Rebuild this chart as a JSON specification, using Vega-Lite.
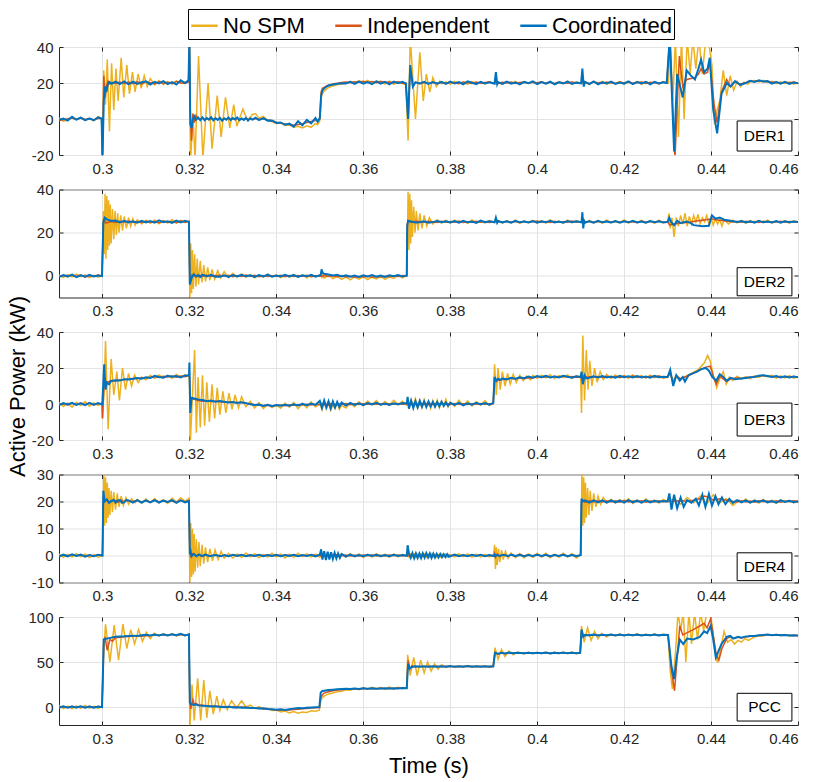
{
"$schema":"https://vega.github.io/schema/vega-lite/v6.json",
"background":"white",
"padding":{"left":5,"top":8,"right":10,"bottom":5},
"bounds":"flush",
"spacing":34.5,
"config":{
 "font":"Liberation Sans",
 "view":{"stroke":"#262626","strokeWidth":1},
 "axis":{"labelFont":"Liberation Sans","labelFontSize":15,"labelColor":"#262626","labelOverlap":false,"titleFont":"Liberation Sans","titleFontWeight":"normal","titleColor":"#000","gridColor":"#e3e3e3","gridWidth":1,"domain":false,"ticks":true,"tickSize":-4,"tickColor":"#262626","tickWidth":1,"labelPadding":10},
 "legend":{"labelFont":"Liberation Sans","labelFontSize":22,"labelColor":"#000"}
},
"datasets":{
"d1":[
{"t":0.29,"a":0.5,"b":-0.8,"c":-0.5},{"t":0.291,"a":-1.2,"b":-0.4,"c":0.3},{"t":0.292,"a":-0.6,"b":0.2,"c":-0.9},{"t":0.293,"a":1.1,"b":0.5,"c":1.2},{"t":0.294,"a":-0.3,"b":-0.3,"c":-0.4},{"t":0.295,"a":0.9,"b":0.6,"c":0.8},{"t":0.296,"a":-0.8,"b":-0.2,"c":-0.6},{"t":0.297,"a":0.4,"b":0.3,"c":0.2},{"t":0.298,"a":-1.0,"b":-0.5,"c":-0.7},{"t":0.299,"a":1.3,"b":0.4,"c":0.9},{"t":0.2998,"a":0.2,"b":0.1,"c":0.3},
{"t":0.3,"a":-22,"b":-22,"c":-22},{"t":0.3003,"a":27,"b":24,"c":10},{"t":0.3006,"b":12,"c":18},{"t":0.3007,"a":8},{"t":0.3009,"b":18,"c":15},{"t":0.3011,"a":33},{"t":0.3013,"b":21,"c":20},{"t":0.3016,"a":-7,"b":19.5,"c":20.5},{"t":0.3021,"a":31,"b":20.3,"c":19.6},{"t":0.3026,"a":5},{"t":0.303,"b":19.8,"c":20.8},{"t":0.3031,"a":28},{"t":0.3036,"a":10},{"t":0.304,"b":20.6,"c":19.4},{"t":0.3043,"a":34},{"t":0.3049,"a":12},{"t":0.305,"b":19.7,"c":20.9},{"t":0.3056,"a":30},{"t":0.306,"b":20.5,"c":19.3},{"t":0.3062,"a":14},{"t":0.3069,"a":26},{"t":0.307,"b":19.6,"c":20.7},{"t":0.3075,"a":15},{"t":0.308,"b":20.8,"c":19.5},{"t":0.3082,"a":25},{"t":0.3089,"a":17},{"t":0.309,"b":19.4,"c":20.4},{"t":0.3096,"a":24},{"t":0.31,"b":20.6,"c":20.9},{"t":0.3103,"a":18},
{"t":0.311,"a":22.5,"b":20.2,"c":19.2},{"t":0.312,"a":19,"b":19.5,"c":20.6},{"t":0.313,"a":21.4,"b":20.7,"c":19.8},{"t":0.314,"a":19.2,"b":19.8,"c":21.0},{"t":0.315,"a":20.8,"b":20.4,"c":19.4},{"t":0.316,"a":19.5,"b":19.6,"c":20.5},{"t":0.317,"a":21.2,"b":20.8,"c":19.1},{"t":0.318,"a":19.8,"b":20.1,"c":21.5},{"t":0.319,"a":20.6,"b":19.7,"c":20.0},{"t":0.3198,"a":21,"b":20.5,"c":21.5},
{"t":0.32,"a":42,"b":42,"c":45},{"t":0.3202,"b":5,"c":-3},{"t":0.3203,"a":-22},{"t":0.3205,"b":-12,"c":-5},{"t":0.3208,"a":3,"b":3,"c":0},{"t":0.3211,"b":-2,"c":1.5},{"t":0.3213,"a":-22},{"t":0.3215,"b":2,"c":-0.5},{"t":0.322,"b":0.5,"c":0.8},{"t":0.3221,"a":35},{"t":0.3225,"b":-0.4,"c":-0.6},{"t":0.323,"b":0.6,"c":0.9},{"t":0.3231,"a":-22},{"t":0.3235,"b":-0.3,"c":-0.7},{"t":0.324,"b":0.4,"c":0.5},{"t":0.3243,"a":20},{"t":0.3245,"b":-0.5,"c":-0.3},{"t":0.325,"b":0.3,"c":1.0},{"t":0.3252,"a":-16.5},{"t":0.3255,"b":-0.2,"c":-0.8},{"t":0.326,"b":0.5,"c":0.4},{"t":0.3264,"a":13},{"t":0.3265,"b":-0.4,"c":-0.5},{"t":0.327,"b":0.2,"c":0.7},{"t":0.3273,"a":-10},{"t":0.3275,"b":-0.6,"c":-0.9},{"t":0.328,"b":0.4,"c":0.3},{"t":0.3283,"a":12},{"t":0.3285,"b":-0.1,"c":-0.4},{"t":0.329,"b":0.5,"c":0.8},{"t":0.3293,"a":-5},{"t":0.3295,"b":-0.3,"c":-0.6},{"t":0.33,"b":0.2,"c":0.5},{"t":0.3302,"a":8},{"t":0.3305,"b":-0.5,"c":-0.2},{"t":0.3309,"a":-4},{"t":0.331,"b":0.4,"c":0.9},{"t":0.3315,"b":-0.2,"c":-0.7},{"t":0.332,"b":0.3,"c":0.3},{"t":0.3323,"a":5.5},{"t":0.3325,"b":-0.4,"c":-0.5},{"t":0.333,"b":0.5,"c":0.6},{"t":0.3334,"a":-1},{"t":0.3335,"b":-0.3,"c":-0.8},{"t":0.334,"b":0.2,"c":0.4},{"t":0.3345,"a":2.5,"b":-0.4,"c":-0.3},{"t":0.3352,"a":3,"b":0.3,"c":0.7},{"t":0.336,"a":0.5,"b":-0.2,"c":-0.6},{"t":0.337,"a":1.5,"b":0.1,"c":0.5},{"t":0.338,"a":-0.8,"b":-0.6,"c":-0.9},{"t":0.339,"a":-1.5,"b":-1.0,"c":-0.8},{"t":0.34,"a":-2.5,"b":-1.8,"c":-2.2},{"t":0.341,"a":-2.2,"b":-2.3,"c":-1.9},{"t":0.342,"a":-3.6,"b":-2.8,"c":-3.2},{"t":0.343,"a":-3.2,"b":-3.2,"c":-2.6},{"t":0.344,"a":-4.5,"b":-3.5,"c":-4.2},{"t":0.345,"a":-4.0,"b":-3.0,"c":-1.2},{"t":0.346,"a":-5.0,"b":-2.6,"c":-3.5},{"t":0.347,"a":-3.8,"b":-2.0,"c":-0.5},{"t":0.348,"a":-4.6,"b":-1.4,"c":-2.4},{"t":0.349,"a":-2.5,"b":-0.9,"c":0.6},{"t":0.3495,"a":-3.2,"b":-0.5,"c":-1.5},
{"t":0.35,"a":-1,"b":0,"c":0.5},{"t":0.3503,"a":12,"b":15,"c":13},{"t":0.3506,"a":14,"b":17,"c":16},{"t":0.351,"a":15.5,"b":17.5,"c":17},{"t":0.3515,"a":16.5,"b":18.2,"c":18},{"t":0.352,"a":17.5,"b":18.8,"c":18.6},{"t":0.353,"a":18.3,"b":19.4,"c":19.2},{"t":0.354,"a":19,"b":19.8,"c":19.6},{"t":0.355,"a":19.4,"b":20.3,"c":19.9},{"t":0.356,"a":19.8,"b":20.5,"c":19.7},{"t":0.357,"a":20.9,"b":20.2,"c":20.6},{"t":0.358,"a":19.8,"b":20.7,"c":19.5},{"t":0.359,"a":21.3,"b":20.4,"c":20.8},{"t":0.36,"a":20.2,"b":20.9,"c":19.6},{"t":0.361,"a":21.4,"b":20.3,"c":20.5},{"t":0.362,"a":19.6,"b":20.8,"c":19.4},{"t":0.363,"a":21.1,"b":20.1,"c":20.9},{"t":0.364,"a":20.4,"b":20.9,"c":19.7},{"t":0.365,"a":19.5,"b":20.3,"c":20.6},{"t":0.366,"a":21.0,"b":20.6,"c":19.2},{"t":0.367,"a":19.3,"b":20.0,"c":20.8},{"t":0.368,"a":20.8,"b":20.7,"c":19.9},{"t":0.369,"a":19.7,"b":19.9,"c":20.7},{"t":0.3698,"a":19,"b":20,"c":19.6},
{"t":0.3703,"a":-12,"b":0,"c":0},{"t":0.3708,"a":45,"b":28,"c":30},{"t":0.3714,"b":18,"c":18},{"t":0.372,"a":0,"b":20.5,"c":20.4},{"t":0.373,"a":37,"b":19.6,"c":19.8},{"t":0.3738,"a":10},{"t":0.374,"b":20.3,"c":20.6},{"t":0.3745,"a":25},{"t":0.375,"b":19.8,"c":19.5},{"t":0.3753,"a":15},{"t":0.376,"a":23,"b":20.4,"c":20.5},{"t":0.3768,"a":18},{"t":0.377,"b":19.7,"c":19.6},{"t":0.3776,"a":21},{"t":0.378,"a":19.5,"b":20.2,"c":20.6},
{"t":0.379,"a":20.6,"b":19.8,"c":19.5},{"t":0.38,"a":19.4,"b":20.4,"c":20.8},{"t":0.381,"a":20.9,"b":20.1,"c":19.7},{"t":0.382,"a":19.7,"b":19.6,"c":20.5},{"t":0.383,"a":20.5,"b":20.6,"c":19.3},{"t":0.384,"a":19.2,"b":20.2,"c":20.9},{"t":0.385,"a":20.8,"b":19.7,"c":20.1},{"t":0.386,"a":19.9,"b":20.5,"c":19.4},{"t":0.387,"a":20.4,"b":19.9,"c":20.7},{"t":0.388,"a":19.5,"b":20.3,"c":19.8},{"t":0.389,"a":20.7,"b":20.6,"c":20.4},{"t":0.3902,"a":19.8,"b":19.8,"c":19.6},{"t":0.3905,"a":20.5,"b":20.8,"c":26},{"t":0.3908,"a":19.6,"b":20.1,"c":19.4},{"t":0.391,"a":20.3,"b":19.6,"c":20.5},{"t":0.392,"a":19.4,"b":20.4,"c":19.5},{"t":0.393,"a":20.6,"b":20.0,"c":20.8},{"t":0.394,"a":19.7,"b":20.5,"c":19.6},{"t":0.395,"a":20.9,"b":19.7,"c":20.3},{"t":0.396,"a":19.3,"b":20.3,"c":19.2},{"t":0.397,"a":20.4,"b":20.6,"c":20.6},{"t":0.398,"a":19.8,"b":19.9,"c":19.9},{"t":0.399,"a":20.7,"b":20.4,"c":20.9},{"t":0.4,"a":19.5,"b":20.1,"c":19.4},{"t":0.401,"a":20.6,"b":20.7,"c":20.5},{"t":0.402,"a":19.6,"b":19.8,"c":19.6},{"t":0.403,"a":20.8,"b":20.4,"c":20.7},{"t":0.404,"a":19.4,"b":19.7,"c":19.3},{"t":0.405,"a":20.3,"b":20.5,"c":20.4},{"t":0.406,"a":19.7,"b":20.2,"c":19.8},{"t":0.407,"a":21.0,"b":19.9,"c":20.8},{"t":0.408,"a":19.5,"b":20.6,"c":19.5},{"t":0.409,"a":20.5,"b":20.0,"c":20.2},{"t":0.4101,"a":19.9,"b":20.3,"c":19.8},{"t":0.4104,"a":20.4,"b":20.9,"c":28},{"t":0.4107,"a":19.6,"b":19.7,"c":18},{"t":0.411,"a":20.7,"b":20.4,"c":20.6},{"t":0.412,"a":19.3,"b":19.8,"c":19.4},{"t":0.413,"a":20.6,"b":20.5,"c":20.9},{"t":0.414,"a":19.8,"b":20.1,"c":19.3},{"t":0.415,"a":20.9,"b":19.7,"c":20.4},{"t":0.416,"a":19.4,"b":20.6,"c":19.7},{"t":0.417,"a":20.3,"b":20.2,"c":20.8},{"t":0.418,"a":19.7,"b":19.8,"c":19.5},{"t":0.419,"a":20.8,"b":20.5,"c":20.3},{"t":0.42,"a":19.5,"b":20.0,"c":19.6},{"t":0.421,"a":20.4,"b":20.7,"c":20.9},{"t":0.422,"a":19.6,"b":19.9,"c":19.4},{"t":0.423,"a":20.9,"b":20.3,"c":20.5},{"t":0.424,"a":19.3,"b":20.6,"c":19.8},{"t":0.425,"a":20.6,"b":19.8,"c":20.7},{"t":0.426,"a":19.8,"b":20.4,"c":19.3},{"t":0.427,"a":20.5,"b":20.1,"c":20.6},{"t":0.428,"a":19.4,"b":19.7,"c":19.7},{"t":0.429,"a":20.7,"b":20.5,"c":20.4},{"t":0.4298,"a":20,"b":20,"c":20},
{"t":0.4302,"a":20},{"t":0.4305,"b":45,"c":45},{"t":0.4306,"a":45},{"t":0.4312,"a":10},{"t":0.4315,"c":-18},{"t":0.4317,"b":-22},{"t":0.4318,"a":45},{"t":0.4322,"c":25},{"t":0.4325,"a":-10},{"t":0.4327,"b":35},{"t":0.4332,"a":45},{"t":0.4335,"b":18,"c":12},{"t":0.4338,"a":0},{"t":0.4344,"b":22,"c":27},{"t":0.4345,"a":45},{"t":0.4352,"a":25},{"t":0.4354,"b":22.5,"c":24},{"t":0.4358,"a":45},{"t":0.4363,"b":23,"c":22},{"t":0.4365,"a":28},{"t":0.4371,"b":25,"c":28},{"t":0.4372,"a":45},{"t":0.4377,"b":28,"c":33},{"t":0.438,"a":25},{"t":0.4384,"b":25,"c":26},{"t":0.4388,"a":45},{"t":0.4392,"b":26,"c":28},{"t":0.4396,"a":40},{"t":0.4397,"b":32,"c":34},{"t":0.4402,"a":30},{"t":0.4405,"c":5},{"t":0.4407,"b":8},{"t":0.4408,"a":-3},{"t":0.4414,"a":5,"b":-2,"c":-8},{"t":0.442,"a":10},{"t":0.4424,"b":15,"c":14},{"t":0.4428,"a":27},{"t":0.4436,"a":13,"b":22,"c":20},{"t":0.4444,"a":24},{"t":0.4445,"b":18,"c":18},{"t":0.4452,"a":16},{"t":0.4455,"b":20.5,"c":21},{"t":0.446,"a":21},{"t":0.4467,"b":19.5,"c":19},{"t":0.4468,"a":18},{"t":0.4476,"a":20.5},{"t":0.448,"b":20.2,"c":20},{"t":0.4485,"a":19.3,"b":20.6,"c":20.7},{"t":0.449,"a":20.9,"b":20.9,"c":21.2},
{"t":0.45,"a":21.4,"b":21.0,"c":20.6},{"t":0.451,"a":20.6,"b":21.2,"c":21.5},{"t":0.452,"a":21.5,"b":20.7,"c":20.8},{"t":0.453,"a":20.3,"b":20.9,"c":21.1},{"t":0.454,"a":20.9,"b":20.3,"c":19.7},{"t":0.455,"a":19.6,"b":20.6,"c":20.5},{"t":0.456,"a":20.7,"b":19.9,"c":19.6},{"t":0.457,"a":19.8,"b":20.4,"c":20.6},{"t":0.458,"a":20.5,"b":20.1,"c":19.5},{"t":0.459,"a":19.4,"b":20.5,"c":20.3},{"t":0.46,"a":20.3,"b":20.0,"c":19.8}
],
"d2":[
{"t":0.29,"a":0.4,"b":-0.3,"c":-0.5},{"t":0.291,"a":-0.7,"b":0.2,"c":0.4},{"t":0.292,"a":0.6,"b":-0.4,"c":-0.2},{"t":0.293,"a":-0.5,"b":0.3,"c":0.6},{"t":0.294,"a":0.8,"b":-0.2,"c":-0.6},{"t":0.295,"a":-0.4,"b":0.4,"c":0.3},{"t":0.296,"a":0.5,"b":-0.5,"c":-0.4},{"t":0.297,"a":-0.8,"b":0.1,"c":0.5},{"t":0.298,"a":0.3,"b":-0.3,"c":-0.3},{"t":0.299,"a":-0.6,"b":0.4,"c":0.2},{"t":0.2999,"a":0.2,"b":0,"c":-0.1},
{"t":0.3002,"a":30,"b":24,"c":25},{"t":0.3004,"a":10},{"t":0.3005,"b":26,"c":27},{"t":0.3006,"a":38},{"t":0.3008,"a":8,"b":24.5},{"t":0.301,"a":37,"c":26.2},{"t":0.3012,"a":12},{"t":0.3014,"a":35},{"t":0.3016,"a":14},{"t":0.3018,"a":33},{"t":0.302,"a":15,"b":25.2,"c":25.4},{"t":0.3023,"a":31},{"t":0.3026,"a":17},{"t":0.3029,"a":30},{"t":0.303,"b":24.7,"c":25.6},{"t":0.3032,"a":19},{"t":0.3035,"a":29},{"t":0.3038,"a":20},{"t":0.304,"b":25.3,"c":24.8},{"t":0.3042,"a":28},{"t":0.3046,"a":21},{"t":0.305,"a":27.5,"b":24.8,"c":25.5},{"t":0.3055,"a":22},{"t":0.306,"a":27,"b":25.4,"c":24.7},{"t":0.3065,"a":23},{"t":0.307,"a":26.5,"b":24.9,"c":25.3},{"t":0.3075,"a":23.5},{"t":0.308,"a":26,"b":25.2,"c":24.6},{"t":0.309,"a":24,"b":24.7,"c":25.5},
{"t":0.31,"a":25.8,"b":25.3,"c":24.8},{"t":0.311,"a":24.3,"b":24.8,"c":25.4},{"t":0.312,"a":25.9,"b":25.2,"c":24.6},{"t":0.313,"a":24.1,"b":24.6,"c":25.7},{"t":0.314,"a":25.6,"b":25.4,"c":24.9},{"t":0.315,"a":24.5,"b":24.9,"c":25.3},{"t":0.316,"a":26.1,"b":25.1,"c":24.5},{"t":0.317,"a":24.4,"b":24.7,"c":25.6},{"t":0.318,"a":25.7,"b":25.5,"c":24.8},{"t":0.319,"a":24.6,"b":24.8,"c":25.5},{"t":0.3199,"a":25.4,"b":25.2,"c":25},
{"t":0.3201,"a":-12,"b":-2,"c":-4},{"t":0.3203,"a":15},{"t":0.3205,"a":-8,"b":0.5,"c":-1},{"t":0.3207,"a":12},{"t":0.3209,"a":-6},{"t":0.321,"b":0.2,"c":0.8},{"t":0.3212,"a":10},{"t":0.3215,"a":-5,"b":-0.4,"c":-0.3},{"t":0.3218,"a":8},{"t":0.322,"b":-0.3,"c":0.4},{"t":0.3221,"a":-4},{"t":0.3225,"a":7,"b":0.3,"c":-0.5},{"t":0.3229,"a":-3},{"t":0.323,"b":-0.2,"c":0.6},{"t":0.3233,"a":5},{"t":0.3237,"a":-2.5},{"t":0.324,"b":0.4,"c":-0.2},{"t":0.3242,"a":4},{"t":0.3247,"a":-2},{"t":0.325,"b":-0.3,"c":0.5},{"t":0.3252,"a":3},{"t":0.3258,"a":-1.5},{"t":0.326,"b":0.2,"c":-0.4},{"t":0.3265,"a":2.5},{"t":0.327,"b":0.3,"c":-0.4},{"t":0.3272,"a":-1},{"t":0.328,"a":2,"b":-0.2,"c":0.3},
{"t":0.329,"a":-0.8,"b":0.3,"c":-0.5},{"t":0.33,"a":1.2,"b":-0.4,"c":0.4},{"t":0.331,"a":-0.5,"b":0.2,"c":-0.3},{"t":0.332,"a":0.9,"b":-0.3,"c":0.5},{"t":0.333,"a":-0.7,"b":0.4,"c":-0.2},{"t":0.334,"a":0.6,"b":-0.1,"c":0.3},{"t":0.335,"a":-0.9,"b":0.3,"c":-0.5},{"t":0.336,"a":0.4,"b":-0.4,"c":0.4},{"t":0.337,"a":-0.6,"b":0.2,"c":-0.3},{"t":0.338,"a":0.8,"b":-0.3,"c":0.6},{"t":0.339,"a":-0.4,"b":0.1,"c":-0.4},{"t":0.34,"a":0.5,"b":-0.2,"c":0.2},{"t":0.341,"a":-0.8,"b":0.3,"c":-0.3},{"t":0.342,"a":0.3,"b":-0.4,"c":0.5},{"t":0.343,"a":-0.6,"b":0.2,"c":-0.2},{"t":0.344,"a":0.7,"b":-0.3,"c":0.4},{"t":0.345,"a":-0.5,"b":0.2,"c":-0.5},{"t":0.346,"a":0.4,"b":-0.2,"c":0.3},{"t":0.347,"a":-0.9,"b":0.3,"c":-0.2},{"t":0.348,"a":0.6,"b":-0.4,"c":0.5},{"t":0.349,"a":-0.3,"b":0.1,"c":-0.4},{"t":0.3502,"a":0.3,"b":-0.2,"c":0.4},{"t":0.3504,"a":-0.6,"b":0.2,"c":3},{"t":0.3507,"a":0.5,"b":-0.3,"c":1.2},{"t":0.351,"a":-1.0,"b":0.2,"c":1.0},{"t":0.352,"a":0.4,"b":-0.3,"c":0.6},{"t":0.353,"a":-1.2,"b":0.1,"c":0.2},{"t":0.354,"a":-0.2,"b":-0.4,"c":0.5},{"t":0.355,"a":-1.6,"b":0.2,"c":-0.3},{"t":0.356,"a":-0.4,"b":-0.5,"c":0.3},{"t":0.357,"a":-1.8,"b":-0.2,"c":-0.4},{"t":0.358,"a":-0.5,"b":-0.6,"c":0.2},{"t":0.359,"a":-1.5,"b":-0.3,"c":-0.5},{"t":0.36,"a":-0.3,"b":-0.5,"c":0.3},{"t":0.361,"a":-1.7,"b":-0.2,"c":-0.3},{"t":0.362,"a":-0.6,"b":-0.6,"c":0.4},{"t":0.363,"a":-1.4,"b":-0.3,"c":-0.4},{"t":0.364,"a":-0.2,"b":-0.5,"c":0.2},{"t":0.365,"a":-1.6,"b":-0.2,"c":-0.5},{"t":0.366,"a":-0.4,"b":-0.4,"c":0.3},{"t":0.367,"a":-1.2,"b":0.1,"c":-0.2},{"t":0.368,"a":0.2,"b":-0.3,"c":0.4},{"t":0.369,"a":-0.9,"b":0.2,"c":-0.3},{"t":0.37,"a":0.3,"b":-0.1,"c":0.2},
{"t":0.3701,"a":8,"b":24,"c":23},{"t":0.3703,"a":39,"b":25.5,"c":25.5},{"t":0.3705,"a":12},{"t":0.3707,"a":38},{"t":0.3709,"a":15},{"t":0.371,"b":24.8,"c":25.2},{"t":0.3711,"a":35},{"t":0.3713,"a":18},{"t":0.3716,"a":32},{"t":0.3719,"a":20},{"t":0.372,"b":25.3,"c":24.7},{"t":0.3722,"a":30},{"t":0.3726,"a":21},{"t":0.373,"a":29,"b":25.2,"c":24.8},{"t":0.3735,"a":22},{"t":0.374,"a":28,"b":24.8,"c":25.3},{"t":0.3746,"a":23},{"t":0.375,"b":25.3,"c":24.6},{"t":0.3752,"a":27},{"t":0.376,"a":24,"b":25.1,"c":24.9},{"t":0.377,"a":26,"b":24.7,"c":25.4},{"t":0.378,"a":24.5,"b":25.3,"c":24.8},
{"t":0.379,"a":25.7,"b":24.8,"c":25.3},{"t":0.38,"a":24.4,"b":25.2,"c":24.7},{"t":0.381,"a":25.8,"b":24.9,"c":25.4},{"t":0.382,"a":24.6,"b":25.4,"c":24.6},{"t":0.383,"a":25.5,"b":24.7,"c":25.5},{"t":0.384,"a":24.3,"b":25.1,"c":24.8},{"t":0.385,"a":25.9,"b":24.8,"c":25.2},{"t":0.386,"a":24.7,"b":25.3,"c":24.5},{"t":0.387,"a":25.4,"b":24.9,"c":25.6},{"t":0.388,"a":24.5,"b":25.2,"c":24.9},{"t":0.389,"a":25.6,"b":24.7,"c":25.3},{"t":0.3902,"a":24.8,"b":25.1,"c":24.8},{"t":0.3905,"a":25.3,"b":25.4,"c":27},{"t":0.3908,"a":24.6,"b":24.8,"c":24.6},{"t":0.391,"a":25.7,"b":25.2,"c":25.4},{"t":0.392,"a":24.4,"b":24.8,"c":24.7},{"t":0.393,"a":25.5,"b":25.3,"c":25.3},{"t":0.394,"a":24.7,"b":24.9,"c":24.6},{"t":0.395,"a":25.8,"b":25.2,"c":25.5},{"t":0.396,"a":24.3,"b":24.7,"c":24.8},{"t":0.397,"a":25.4,"b":25.3,"c":25.2},{"t":0.398,"a":24.6,"b":24.8,"c":24.7},{"t":0.399,"a":25.7,"b":25.1,"c":25.4},{"t":0.4,"a":24.5,"b":25.4,"c":24.6},{"t":0.401,"a":25.6,"b":24.8,"c":25.3},{"t":0.402,"a":24.4,"b":25.2,"c":24.8},{"t":0.403,"a":25.9,"b":24.7,"c":25.5},{"t":0.404,"a":24.7,"b":25.3,"c":24.7},{"t":0.405,"a":25.3,"b":24.9,"c":25.2},{"t":0.406,"a":24.5,"b":25.1,"c":24.6},{"t":0.407,"a":25.8,"b":24.8,"c":25.4},{"t":0.408,"a":24.6,"b":25.4,"c":24.9},{"t":0.409,"a":25.5,"b":24.9,"c":25.3},{"t":0.4102,"a":24.7,"b":25.2,"c":24.8},{"t":0.4104,"a":25.4,"b":25.3,"c":29.5},{"t":0.4106,"a":24.8,"b":24.8,"c":22},{"t":0.4108,"a":25.6,"b":25.1,"c":25.5},{"t":0.411,"a":24.4,"b":24.7,"c":24.7},{"t":0.412,"a":25.7,"b":25.3,"c":25.3},{"t":0.413,"a":24.5,"b":24.8,"c":24.6},{"t":0.414,"a":25.6,"b":25.2,"c":25.5},{"t":0.415,"a":24.3,"b":24.9,"c":24.8},{"t":0.416,"a":25.8,"b":25.4,"c":25.2},{"t":0.417,"a":24.6,"b":24.7,"c":24.7},{"t":0.418,"a":25.4,"b":25.2,"c":25.4},{"t":0.419,"a":24.7,"b":24.8,"c":24.6},{"t":0.42,"a":25.9,"b":25.3,"c":25.3},{"t":0.421,"a":24.4,"b":24.9,"c":24.8},{"t":0.422,"a":25.5,"b":25.1,"c":25.5},{"t":0.423,"a":24.6,"b":24.7,"c":24.7},{"t":0.424,"a":25.7,"b":25.4,"c":25.2},{"t":0.425,"a":24.5,"b":24.8,"c":24.6},{"t":0.426,"a":25.6,"b":25.2,"c":25.4},{"t":0.427,"a":24.3,"b":24.9,"c":24.8},{"t":0.428,"a":25.8,"b":25.3,"c":25.3},{"t":0.429,"a":24.6,"b":24.8,"c":24.7},
{"t":0.43,"a":25,"b":25,"c":25},{"t":0.4303,"a":29},{"t":0.4304,"c":27},{"t":0.4305,"b":23.5},{"t":0.4306,"a":22},{"t":0.4308,"c":25},{"t":0.431,"a":27},{"t":0.4315,"a":18,"b":24,"c":23.5},{"t":0.432,"a":27},{"t":0.4322,"c":25.5},{"t":0.4325,"a":23},{"t":0.433,"a":28,"b":24.5,"c":24.5},{"t":0.4335,"a":24},{"t":0.434,"a":29},{"t":0.4345,"a":23,"c":25.2},{"t":0.435,"a":27.5,"b":24.8},{"t":0.4355,"a":24,"c":24.2},{"t":0.436,"a":28,"c":23.5},{"t":0.4365,"a":25},{"t":0.437,"a":28.5,"b":25.5},{"t":0.4375,"a":24},{"t":0.438,"a":27,"c":23},{"t":0.4385,"a":25},{"t":0.439,"a":28,"b":26},{"t":0.4395,"a":24,"c":23.2},{"t":0.44,"a":27,"b":26.5},{"t":0.4402,"c":28},{"t":0.4405,"a":23.5},{"t":0.441,"a":26.5,"b":26,"c":26.5},{"t":0.4415,"a":24},{"t":0.442,"a":26,"c":27},{"t":0.4425,"a":23},{"t":0.443,"a":26,"b":25.5,"c":26},{"t":0.444,"a":24},{"t":0.4445,"c":25.5},{"t":0.445,"a":25.8,"b":25},{"t":0.446,"a":24.5,"b":25.2,"c":25},
{"t":0.447,"a":25.7,"b":24.8,"c":25.4},{"t":0.448,"a":24.4,"b":25.3,"c":24.7},{"t":0.449,"a":25.6,"b":24.9,"c":25.3},{"t":0.45,"a":24.7,"b":25.2,"c":24.6},{"t":0.451,"a":25.5,"b":24.7,"c":25.5},{"t":0.452,"a":24.6,"b":25.3,"c":24.8},{"t":0.453,"a":25.8,"b":24.8,"c":25.2},{"t":0.454,"a":24.5,"b":25.1,"c":24.7},{"t":0.455,"a":25.4,"b":24.9,"c":25.4},{"t":0.456,"a":24.7,"b":25.3,"c":24.6},{"t":0.457,"a":25.6,"b":24.8,"c":25.3},{"t":0.458,"a":24.4,"b":25.2,"c":24.8},{"t":0.459,"a":25.5,"b":24.9,"c":25.2},{"t":0.46,"a":24.8,"b":25.1,"c":24.9}
],
"d3":[
{"t":0.29,"a":0.8,"b":-0.4,"c":-0.6},{"t":0.291,"a":-1.4,"b":0.3,"c":0.5},{"t":0.292,"a":0.5,"b":-0.5,"c":-0.3},{"t":0.293,"a":-1.8,"b":0.4,"c":0.7},{"t":0.294,"a":1.0,"b":-0.3,"c":-0.5},{"t":0.295,"a":-0.9,"b":0.5,"c":0.4},{"t":0.296,"a":1.3,"b":-0.2,"c":-0.6},{"t":0.297,"a":-1.2,"b":0.4,"c":0.6},{"t":0.298,"a":0.6,"b":-0.5,"c":-0.4},{"t":0.299,"a":-0.8,"b":0.3,"c":0.5},{"t":0.2999,"a":0.4,"b":-0.2,"c":-0.2},
{"t":0.3,"a":-8,"b":-8,"c":2},{"t":0.3004,"a":10,"b":12,"c":22},{"t":0.3007,"a":35,"b":10,"c":8},{"t":0.301,"b":12,"c":12},{"t":0.3013,"a":-14},{"t":0.3015,"b":12.5,"c":11},{"t":0.302,"a":25,"b":13,"c":12.8},{"t":0.3026,"a":5},{"t":0.303,"b":12.8,"c":13.2},{"t":0.3033,"a":18},{"t":0.3039,"a":2},{"t":0.304,"b":13.4,"c":13},{"t":0.3046,"a":20},{"t":0.305,"b":13.5,"c":13.8},{"t":0.3053,"a":8},{"t":0.306,"a":17,"b":13.8,"c":13.6},{"t":0.3067,"a":10},{"t":0.307,"b":14.1,"c":14},{"t":0.3074,"a":16},{"t":0.308,"b":14.2,"c":14.5},{"t":0.3082,"a":12},{"t":0.309,"a":15,"b":14.4,"c":14.1},{"t":0.31,"a":13.5,"b":14.6,"c":14.8},
{"t":0.311,"a":15.8,"b":14.9,"c":14.4},{"t":0.312,"a":14.2,"b":15.3,"c":15.6},{"t":0.313,"a":16.1,"b":14.8,"c":15.0},{"t":0.314,"a":14.5,"b":15.4,"c":14.6},{"t":0.315,"a":15.9,"b":15.0,"c":15.7},{"t":0.316,"a":14.3,"b":15.5,"c":15.1},{"t":0.317,"a":16.4,"b":14.9,"c":15.5},{"t":0.318,"a":14.8,"b":15.6,"c":14.8},{"t":0.319,"a":16.2,"b":15.2,"c":15.9},{"t":0.3199,"a":15.3,"b":15.8,"c":16},
{"t":0.32,"a":15,"b":16,"c":23},{"t":0.3202,"a":-22,"b":-2,"c":-5},{"t":0.3205,"b":3,"c":3.5},{"t":0.3208,"a":10},{"t":0.3212,"a":30},{"t":0.3216,"a":-16},{"t":0.322,"a":15,"b":2,"c":2.5},{"t":0.3225,"a":-13},{"t":0.323,"a":16,"b":1.6,"c":2.2},{"t":0.3235,"a":-12},{"t":0.324,"a":12,"b":1.8,"c":1.5},{"t":0.3246,"a":-10},{"t":0.325,"b":1.2,"c":1.9},{"t":0.3252,"a":11},{"t":0.3258,"a":-8},{"t":0.326,"b":1.6,"c":1.2},{"t":0.3264,"a":9},{"t":0.327,"a":-6,"b":1.3,"c":1.6},{"t":0.3277,"a":7},{"t":0.328,"b":1.0,"c":1.3},{"t":0.3284,"a":-5},{"t":0.329,"b":1.1,"c":0.8},{"t":0.3291,"a":6},{"t":0.3298,"a":-3},{"t":0.33,"b":0.8,"c":1.1},{"t":0.3305,"a":5},{"t":0.331,"b":0.9,"c":0.6},{"t":0.3313,"a":-2},{"t":0.332,"a":4,"b":0.8,"c":1.0},
{"t":0.333,"a":-1.5,"b":0.4,"c":0.5},{"t":0.334,"a":1.5,"b":0.1,"c":-0.2},{"t":0.335,"a":-2.2,"b":-0.4,"c":-0.6},{"t":0.336,"a":0.8,"b":-0.6,"c":-0.3},{"t":0.337,"a":-2.5,"b":-0.9,"c":-1.1},{"t":0.338,"a":-0.2,"b":-0.7,"c":-0.5},{"t":0.339,"a":-2.0,"b":-1.0,"c":-1.2},{"t":0.34,"a":-0.6,"b":-0.8,"c":-0.6},{"t":0.341,"a":-2.4,"b":-0.6,"c":-1.0},{"t":0.342,"a":0.5,"b":-0.9,"c":-0.4},{"t":0.343,"a":-1.8,"b":-0.5,"c":-0.9},{"t":0.344,"a":0.9,"b":-0.7,"c":-0.2},{"t":0.345,"a":-2.6,"b":-0.3,"c":-0.8},{"t":0.346,"a":0.4,"b":-0.6,"c":0.1},{"t":0.347,"a":-2.1,"b":-0.2,"c":-0.7},{"t":0.348,"a":1.2,"b":-0.5,"c":0.3},{"t":0.349,"a":-1.6,"b":-0.1,"c":-0.5},{"t":0.35,"a":0.3,"b":-0.4,"c":1.8},{"t":0.3505,"a":-3.2,"b":0.3,"c":-2.2},{"t":0.351,"a":1.4,"b":-0.5,"c":2.0},{"t":0.3515,"a":-2.8,"b":-0.2,"c":-1.8},{"t":0.352,"a":0.6,"b":-0.6,"c":1.6},{"t":0.3525,"a":-3.5,"b":0.2,"c":-2.4},{"t":0.353,"a":-0.5,"b":-0.4,"c":1.5},{"t":0.3535,"a":-2.6,"b":-0.1,"c":-1.9},{"t":0.354,"a":0.8,"b":-0.5,"c":1.2},{"t":0.3545,"a":-3.0,"b":0.1,"c":-1.6},{"t":0.355,"a":-0.8,"b":-0.3,"c":0.8},{"t":0.356,"a":-2.2,"b":0.2,"c":-0.9},{"t":0.357,"a":0.5,"b":-0.4,"c":0.6},{"t":0.358,"a":-1.5,"b":0.1,"c":-0.5},{"t":0.359,"a":1.2,"b":-0.3,"c":0.4},{"t":0.36,"a":-0.9,"b":0.2,"c":-0.6},{"t":0.361,"a":1.6,"b":-0.2,"c":0.5},{"t":0.362,"a":-0.4,"b":0.3,"c":-0.3},{"t":0.363,"a":1.9,"b":-0.1,"c":0.6},{"t":0.364,"a":-0.7,"b":0.2,"c":-0.4},{"t":0.365,"a":1.4,"b":-0.3,"c":0.3},{"t":0.366,"a":-0.5,"b":0.1,"c":-0.5},{"t":0.367,"a":2.0,"b":-0.2,"c":0.4},{"t":0.368,"a":-0.3,"b":0.3,"c":-0.2},{"t":0.369,"a":1.5,"b":-0.1,"c":0.5},{"t":0.37,"a":-0.6,"b":0.2,"c":0.3},{"t":0.3702,"a":0.4,"b":-0.2,"c":4},{"t":0.3705,"a":-1.8,"b":0.3,"c":-2.6},{"t":0.371,"a":2.4,"b":-0.4,"c":1.9},{"t":0.3715,"a":-1.2,"b":0.2,"c":-2.2},{"t":0.372,"a":2.8,"b":-0.3,"c":1.6},{"t":0.3725,"a":-2.4,"b":0.1,"c":-1.9},{"t":0.373,"a":1.9,"b":-0.5,"c":1.8},{"t":0.3735,"a":-2.0,"b":0.2,"c":-1.5},{"t":0.374,"a":2.5,"b":-0.2,"c":1.4},{"t":0.3745,"a":-1.6,"b":0.3,"c":-1.7},{"t":0.375,"a":1.2,"b":-0.4,"c":1.5},{"t":0.3755,"a":-2.6,"b":0.1,"c":-1.3},{"t":0.376,"a":1.8,"b":-0.3,"c":1.2},{"t":0.3765,"a":-1.4,"b":0.2,"c":-1.6},{"t":0.377,"a":2.2,"b":-0.2,"c":1.1},{"t":0.3775,"a":-2.2,"b":0.3,"c":-1.2},{"t":0.378,"a":1.5,"b":-0.1,"c":1.3},{"t":0.3785,"a":-1.0,"b":0.2,"c":-1.1},{"t":0.379,"a":2.6,"b":-0.3,"c":0.9},{"t":0.3795,"a":-1.7,"b":0.1,"c":-1.0},{"t":0.38,"a":1.1,"b":-0.2,"c":0.7},{"t":0.381,"a":-1.3,"b":0.3,"c":-0.5},{"t":0.382,"a":2.1,"b":-0.1,"c":0.6},{"t":0.383,"a":-0.8,"b":0.2,"c":-0.7},{"t":0.384,"a":1.7,"b":-0.3,"c":0.4},{"t":0.385,"a":-1.1,"b":0.1,"c":-0.4},{"t":0.386,"a":1.3,"b":-0.2,"c":0.6},{"t":0.387,"a":-0.6,"b":0.3,"c":-0.3},{"t":0.388,"a":1.9,"b":-0.1,"c":0.5},{"t":0.389,"a":-0.9,"b":0.2,"c":-0.4},{"t":0.3899,"a":0.5,"b":0.1,"c":0.6},
{"t":0.3902,"a":22,"b":14,"c":15},{"t":0.3906,"a":5,"b":12.5,"c":13},{"t":0.391,"a":20,"b":13.5,"c":14},{"t":0.3915,"a":8,"b":13.1,"c":13.4},{"t":0.392,"a":18,"b":13.8,"c":14.2},{"t":0.3926,"a":10},{"t":0.393,"b":13.6,"c":13.7},{"t":0.3932,"a":17},{"t":0.3938,"a":11},{"t":0.394,"b":14.3,"c":14.6},{"t":0.3945,"a":16.5},{"t":0.395,"b":13.9,"c":14.1},{"t":0.3952,"a":12},{"t":0.396,"a":16,"b":14.4,"c":14.8},{"t":0.3968,"a":13},{"t":0.397,"b":14.1,"c":14.3},{"t":0.3976,"a":15.5},{"t":0.398,"b":14.6,"c":15.2},{"t":0.3985,"a":13.5},{"t":0.399,"a":15.9,"b":14.5,"c":14.6},{"t":0.4,"a":14.2,"b":15.2,"c":15.5},{"t":0.401,"a":16.0,"b":14.7,"c":14.9},{"t":0.402,"a":14.5,"b":15.3,"c":15.6},{"t":0.403,"a":16.3,"b":14.8,"c":14.7},{"t":0.404,"a":14.1,"b":15.4,"c":15.3},{"t":0.405,"a":15.8,"b":15.0,"c":14.8},{"t":0.406,"a":14.6,"b":15.5,"c":15.7},{"t":0.407,"a":16.2,"b":14.9,"c":15.1},{"t":0.408,"a":14.3,"b":15.3,"c":14.6},{"t":0.409,"a":15.7,"b":14.8,"c":15.4},{"t":0.41,"a":15,"b":15,"c":15},
{"t":0.4102,"a":-5,"b":14,"c":18},{"t":0.4105,"a":38,"b":13,"c":11},{"t":0.4109,"a":2,"b":16,"c":16},{"t":0.4113,"a":30,"b":14.8,"c":14.2},{"t":0.4117,"a":8},{"t":0.412,"b":15.2,"c":14.6},{"t":0.4121,"a":24},{"t":0.4126,"a":10},{"t":0.413,"b":14.9,"c":15.4},{"t":0.4132,"a":20},{"t":0.4138,"a":12},{"t":0.414,"b":15.3,"c":14.8},{"t":0.4145,"a":18},{"t":0.415,"b":14.8,"c":15.5},{"t":0.4152,"a":13.5},{"t":0.416,"a":16.5,"b":15.4,"c":14.7},{"t":0.417,"a":14.2,"b":14.9,"c":15.3},{"t":0.418,"a":16.1,"b":15.3,"c":14.6},{"t":0.419,"a":14.5,"b":14.8,"c":15.6},{"t":0.42,"a":15.9,"b":15.4,"c":14.9},{"t":0.421,"a":14.3,"b":15.0,"c":15.4},{"t":0.422,"a":16.2,"b":15.5,"c":14.7},{"t":0.423,"a":14.7,"b":14.9,"c":15.5},{"t":0.424,"a":15.8,"b":15.3,"c":14.8},{"t":0.425,"a":14.4,"b":14.8,"c":15.3},{"t":0.426,"a":16.0,"b":15.4,"c":14.6},{"t":0.427,"a":14.6,"b":15.0,"c":15.6},{"t":0.428,"a":15.7,"b":15.5,"c":14.9},{"t":0.429,"a":14.2,"b":14.9,"c":15.2},{"t":0.43,"a":15,"b":15,"c":15},
{"t":0.4306,"a":17,"b":17,"c":19},{"t":0.4313,"a":13,"b":12,"c":10},{"t":0.432,"a":16,"b":15.5,"c":16},{"t":0.4328,"c":13},{"t":0.433,"a":14,"b":14},{"t":0.4335,"c":15},{"t":0.434,"c":12.5},{"t":0.4348,"c":16},{"t":0.435,"a":16.5,"b":16},{"t":0.4358,"c":17},{"t":0.4368,"c":18},{"t":0.437,"a":19,"b":18.5},{"t":0.4378,"c":19.5},{"t":0.4385,"a":23},{"t":0.4388,"b":20.5,"c":20},{"t":0.4392,"a":27},{"t":0.4395,"c":18.5},{"t":0.4398,"a":24,"b":21},{"t":0.4403,"c":15},{"t":0.4405,"a":16},{"t":0.4406,"b":15},{"t":0.4412,"b":11,"c":13},{"t":0.4413,"a":9},{"t":0.442,"a":14,"b":15.5,"c":16.5},{"t":0.4428,"a":18,"b":14,"c":15},{"t":0.4435,"a":11},{"t":0.4436,"b":12.5,"c":13},{"t":0.4442,"a":15},{"t":0.4445,"b":14,"c":14.5},{"t":0.445,"a":13},{"t":0.4455,"c":13.8},{"t":0.446,"a":15.5,"b":14.5},{"t":0.447,"a":14,"b":14.2,"c":14.2},{"t":0.448,"a":15.2,"b":14.6,"c":14.5},{"t":0.449,"a":14.1,"b":14.9,"c":14.8},{"t":0.45,"a":15.6,"b":15.2,"c":15.0},{"t":0.451,"a":14.8,"b":15.5,"c":15.7},{"t":0.452,"a":16.0,"b":15.8,"c":16.0},{"t":0.453,"a":15.2,"b":15.4,"c":15.6},{"t":0.454,"a":15.9,"b":15.1,"c":15.0},{"t":0.455,"a":14.4,"b":15.3,"c":15.5},{"t":0.456,"a":15.7,"b":14.8,"c":14.7},{"t":0.457,"a":14.5,"b":15.2,"c":15.4},{"t":0.458,"a":15.8,"b":14.9,"c":14.8},{"t":0.459,"a":14.3,"b":15.3,"c":15.3},{"t":0.46,"a":15.1,"b":15.0,"c":14.9}
],
"d4":[
{"t":0.29,"a":0.5,"b":-0.3,"c":-0.4},{"t":0.291,"a":-0.7,"b":0.2,"c":0.3},{"t":0.292,"a":0.4,"b":-0.2,"c":-0.3},{"t":0.293,"a":-0.6,"b":0.3,"c":0.4},{"t":0.294,"a":0.7,"b":-0.1,"c":-0.2},{"t":0.295,"a":-0.5,"b":0.2,"c":0.3},{"t":0.296,"a":0.6,"b":-0.3,"c":-0.4},{"t":0.297,"a":-0.8,"b":0.1,"c":0.2},{"t":0.298,"a":0.3,"b":-0.2,"c":-0.3},{"t":0.299,"a":-0.6,"b":0.2,"c":0.3},{"t":0.3,"a":0,"b":0,"c":0},
{"t":0.3002,"a":15,"b":21,"c":24},{"t":0.3003,"a":31},{"t":0.3005,"a":11,"b":20.5,"c":20},{"t":0.3007,"a":29},{"t":0.3009,"a":12},{"t":0.301,"b":20.3,"c":20.8},{"t":0.3011,"a":27},{"t":0.3013,"a":14},{"t":0.3015,"a":25,"b":19.7,"c":19.5},{"t":0.3017,"a":15},{"t":0.302,"a":24,"b":19.8,"c":20.2},{"t":0.3023,"a":16},{"t":0.3026,"a":23.5,"b":20.4,"c":20.6},{"t":0.303,"a":17,"b":20.4,"c":19.6},{"t":0.3034,"a":23},{"t":0.3035,"b":19.7,"c":20.4},{"t":0.3038,"a":18},{"t":0.304,"b":20.1,"c":20.5},{"t":0.3043,"a":22},{"t":0.3045,"b":20.5,"c":19.5},{"t":0.3048,"a":18.5},{"t":0.305,"b":19.8,"c":19.7},{"t":0.3054,"a":21.5},{"t":0.3055,"b":20.3,"c":20.6},{"t":0.306,"a":19,"b":20.3,"c":20.4},{"t":0.3067,"a":21},{"t":0.307,"b":20,"c":19.6},{"t":0.3075,"a":19.5},
{"t":0.308,"a":20.8,"b":20.4,"c":20.5},{"t":0.309,"a":19.4,"b":19.8,"c":19.6},{"t":0.31,"a":20.9,"b":20.3,"c":20.4},{"t":0.311,"a":19.6,"b":19.7,"c":19.7},{"t":0.312,"a":21.1,"b":20.4,"c":20.5},{"t":0.313,"a":19.5,"b":19.9,"c":19.6},{"t":0.314,"a":20.7,"b":20.3,"c":20.3},{"t":0.315,"a":19.3,"b":19.8,"c":19.8},{"t":0.316,"a":21.3,"b":20.2,"c":20.5},{"t":0.317,"a":19.8,"b":19.7,"c":19.5},{"t":0.318,"a":21.4,"b":20.4,"c":20.4},{"t":0.319,"a":20.1,"b":19.9,"c":19.7},{"t":0.3199,"a":21.2,"b":20.2,"c":20.2},
{"t":0.3201,"a":-11,"b":1,"c":0.5},{"t":0.3203,"a":12,"b":-0.5,"c":1.4},{"t":0.3205,"a":-8,"b":0.8,"c":-0.3},{"t":0.3207,"a":10},{"t":0.3209,"a":-7},{"t":0.321,"b":0.4,"c":0.6},{"t":0.3211,"a":8},{"t":0.3213,"a":-6},{"t":0.3216,"a":6,"b":-0.2,"c":-0.3},{"t":0.3219,"a":-4.5},{"t":0.3222,"a":5,"b":0.3,"c":0.4},{"t":0.3225,"a":-4},{"t":0.3229,"a":4,"b":-0.3,"c":-0.2},{"t":0.3233,"a":-3},{"t":0.3237,"a":3,"b":0.2,"c":0.3},{"t":0.3242,"a":-2.5},{"t":0.3247,"a":2.5,"b":-0.2,"c":-0.3},{"t":0.3253,"a":-2},{"t":0.3259,"a":2,"b":0.2,"c":0.2},{"t":0.3266,"a":-1.5},{"t":0.3273,"a":1.5,"b":-0.2,"c":-0.3},{"t":0.328,"a":-1,"b":0.1,"c":0.2},
{"t":0.329,"a":0.8,"b":-0.2,"c":-0.3},{"t":0.33,"a":-0.9,"b":0.2,"c":0.3},{"t":0.331,"a":0.6,"b":-0.1,"c":-0.2},{"t":0.332,"a":-0.7,"b":0.2,"c":0.3},{"t":0.333,"a":0.9,"b":-0.2,"c":-0.3},{"t":0.334,"a":-0.5,"b":0.1,"c":0.2},{"t":0.335,"a":0.7,"b":-0.2,"c":-0.2},{"t":0.336,"a":-0.8,"b":0.2,"c":0.3},{"t":0.337,"a":0.4,"b":-0.1,"c":-0.3},{"t":0.338,"a":-0.6,"b":0.2,"c":0.2},{"t":0.339,"a":0.8,"b":-0.2,"c":-0.2},{"t":0.34,"a":-0.5,"b":0.1,"c":0.3},{"t":0.341,"a":0.6,"b":-0.2,"c":-0.3},{"t":0.342,"a":-0.9,"b":0.2,"c":0.2},{"t":0.343,"a":0.5,"b":-0.1,"c":-0.2},{"t":0.344,"a":-0.7,"b":0.2,"c":0.3},{"t":0.345,"a":0.8,"b":-0.2,"c":-0.3},{"t":0.346,"a":-0.4,"b":0.1,"c":0.2},{"t":0.347,"a":0.7,"b":-0.2,"c":-0.2},{"t":0.348,"a":-0.6,"b":0.2,"c":0.3},{"t":0.349,"a":0.5,"b":-0.1,"c":-0.3},{"t":0.35,"a":-0.7,"b":0.2,"c":0.3},{"t":0.3503,"a":0.3,"b":-0.2,"c":2.3},{"t":0.3506,"a":-0.5,"b":0.1,"c":-1.5},{"t":0.351,"a":0.8,"b":-0.2,"c":1.6},{"t":0.3514,"a":-0.4,"b":0.2,"c":-1.7},{"t":0.3518,"a":0.6,"b":-0.1,"c":1.4},{"t":0.3522,"a":-0.8,"b":0.2,"c":-1.5},{"t":0.3526,"a":0.4,"b":-0.2,"c":1.2},{"t":0.353,"a":-0.6,"b":0.1,"c":-1.3},{"t":0.3534,"a":0.7,"b":-0.1,"c":1.0},{"t":0.3538,"a":-0.3,"b":0.2,"c":-1.1},{"t":0.3542,"a":0.5,"b":-0.2,"c":0.8},{"t":0.3546,"a":-0.7,"b":0.1,"c":-0.9},{"t":0.355,"a":0.4,"b":-0.1,"c":0.6},{"t":0.356,"a":-0.6,"b":0.2,"c":-0.4},{"t":0.357,"a":0.7,"b":-0.2,"c":0.3},{"t":0.358,"a":-0.5,"b":0.1,"c":-0.3},{"t":0.359,"a":0.6,"b":-0.2,"c":0.2},{"t":0.36,"a":-0.8,"b":0.2,"c":-0.3},{"t":0.361,"a":0.4,"b":-0.1,"c":0.3},{"t":0.362,"a":-0.6,"b":0.2,"c":-0.2},{"t":0.363,"a":0.7,"b":-0.2,"c":0.3},{"t":0.364,"a":-0.4,"b":0.1,"c":-0.3},{"t":0.365,"a":0.5,"b":-0.2,"c":0.2},{"t":0.366,"a":-0.7,"b":0.2,"c":-0.3},{"t":0.367,"a":0.6,"b":-0.1,"c":0.3},{"t":0.368,"a":-0.5,"b":0.2,"c":-0.2},{"t":0.369,"a":0.4,"b":-0.2,"c":0.2},{"t":0.37,"a":-0.3,"b":0.1,"c":-0.1},{"t":0.3702,"a":0.2,"b":-0.1,"c":3.8},{"t":0.3705,"a":-0.6,"b":0.2,"c":0.8},{"t":0.3709,"a":0.5,"b":-0.2,"c":-0.9},{"t":0.3713,"a":-0.4,"b":0.1,"c":0.9},{"t":0.3717,"a":0.6,"b":-0.1,"c":-1.0},{"t":0.3721,"a":-0.7,"b":0.2,"c":0.8},{"t":0.3725,"a":0.4,"b":-0.2,"c":-0.9},{"t":0.3729,"a":-0.5,"b":0.1,"c":0.7},{"t":0.3733,"a":0.7,"b":-0.1,"c":-1.0},{"t":0.3737,"a":-0.3,"b":0.2,"c":0.8},{"t":0.3741,"a":0.5,"b":-0.2,"c":-0.8},{"t":0.3745,"a":-0.6,"b":0.1,"c":0.9},{"t":0.3749,"a":0.4,"b":-0.1,"c":-0.7},{"t":0.3753,"a":-0.7,"b":0.2,"c":0.8},{"t":0.3757,"a":0.6,"b":-0.2,"c":-0.9},{"t":0.3761,"a":-0.4,"b":0.1,"c":0.7},{"t":0.3765,"a":0.5,"b":-0.1,"c":-0.8},{"t":0.3769,"a":-0.6,"b":0.2,"c":0.6},{"t":0.3773,"a":0.3,"b":-0.2,"c":-0.7},{"t":0.3777,"a":-0.5,"b":0.1,"c":0.6},{"t":0.3781,"a":0.6,"b":-0.1,"c":-0.6},{"t":0.3785,"a":-0.4,"b":0.2,"c":0.5},{"t":0.3789,"a":0.5,"b":-0.2,"c":-0.6},{"t":0.3793,"a":-0.6,"b":0.1,"c":0.5},{"t":0.3797,"a":0.4,"b":-0.1,"c":-0.5},{"t":0.381,"a":-0.5,"b":0.2,"c":0.3},{"t":0.382,"a":0.7,"b":-0.2,"c":-0.3},{"t":0.383,"a":-0.4,"b":0.1,"c":0.2},{"t":0.384,"a":0.6,"b":-0.2,"c":-0.3},{"t":0.385,"a":-0.7,"b":0.2,"c":0.3},{"t":0.386,"a":0.5,"b":-0.1,"c":-0.2},{"t":0.387,"a":-0.6,"b":0.2,"c":0.3},{"t":0.388,"a":0.4,"b":-0.2,"c":-0.3},{"t":0.389,"a":-0.5,"b":0.1,"c":0.2},{"t":0.39,"a":0.3,"b":-0.1,"c":-0.2},{"t":0.3902,"a":4,"b":0.8,"c":0.3},{"t":0.3904,"a":-5,"b":-0.6,"c":-0.3},{"t":0.3906,"a":3},{"t":0.3908,"a":-3.5,"b":0.5,"c":0.2},{"t":0.3911,"a":2.5},{"t":0.3914,"a":-2.5,"b":-0.4,"c":-0.2},{"t":0.3918,"a":2},{"t":0.3922,"a":-1.5,"b":0.3,"c":0.3},{"t":0.3927,"a":1.5},{"t":0.3933,"a":-1,"b":-0.3,"c":-0.2},{"t":0.394,"a":0.9,"b":0.2,"c":0.3},{"t":0.395,"a":-0.8,"b":-0.3,"c":-0.2},{"t":0.396,"a":0.7,"b":0.4,"c":0.2},{"t":0.397,"a":-0.9,"b":-0.2,"c":-0.3},{"t":0.398,"a":0.6,"b":0.3,"c":0.2},{"t":0.399,"a":-0.7,"b":-0.3,"c":-0.2},{"t":0.4,"a":0.8,"b":0.4,"c":0.3},{"t":0.401,"a":-0.6,"b":-0.3,"c":-0.2},{"t":0.402,"a":0.9,"b":0.2,"c":0.3},{"t":0.403,"a":-0.8,"b":-0.4,"c":-0.3},{"t":0.404,"a":0.5,"b":0.3,"c":0.2},{"t":0.405,"a":-0.7,"b":-0.2,"c":-0.2},{"t":0.406,"a":0.8,"b":0.4,"c":0.3},{"t":0.407,"a":-0.6,"b":-0.3,"c":-0.3},{"t":0.408,"a":0.7,"b":0.3,"c":0.2},{"t":0.409,"a":-0.9,"b":-0.4,"c":-0.2},{"t":0.41,"a":0.3,"b":0.2,"c":0.1},
{"t":0.4102,"a":18,"b":20,"c":21},{"t":0.4103,"a":31},{"t":0.4105,"a":11,"b":20.5,"c":20},{"t":0.4107,"a":29},{"t":0.4109,"a":12},{"t":0.411,"b":19.7,"c":20.4},{"t":0.4111,"a":27},{"t":0.4113,"a":14},{"t":0.4116,"a":25},{"t":0.4119,"a":15},{"t":0.412,"b":20.3,"c":19.6},{"t":0.4122,"a":24},{"t":0.4126,"a":16.5},{"t":0.413,"a":23,"b":19.8,"c":20.4},{"t":0.4135,"a":18},{"t":0.414,"a":22,"b":20.3,"c":19.7},{"t":0.4146,"a":19},{"t":0.415,"b":19.8,"c":20.4},{"t":0.4152,"a":21.5},{"t":0.416,"a":19.5,"b":20.3,"c":19.6},{"t":0.417,"a":20.8,"b":19.8,"c":20.4},{"t":0.418,"a":19.4,"b":20.3,"c":19.7},{"t":0.419,"a":20.7,"b":19.7,"c":20.3},{"t":0.42,"a":19.6,"b":20.4,"c":19.6},{"t":0.421,"a":21.0,"b":19.8,"c":20.5},{"t":0.422,"a":19.3,"b":20.2,"c":19.7},{"t":0.423,"a":20.6,"b":19.9,"c":20.3},{"t":0.424,"a":19.5,"b":20.3,"c":19.6},{"t":0.425,"a":20.9,"b":19.7,"c":20.4},{"t":0.426,"a":19.7,"b":20.2,"c":19.7},{"t":0.427,"a":20.5,"b":19.8,"c":20.3},{"t":0.428,"a":19.4,"b":20.3,"c":19.8},{"t":0.429,"a":20.8,"b":19.9,"c":20.2},{"t":0.43,"a":20,"b":20,"c":20},
{"t":0.4304,"c":23},{"t":0.4309,"c":17},{"t":0.4315,"a":21,"b":20.2,"c":22.5},{"t":0.4322,"c":17.5},{"t":0.433,"a":19,"b":20.3,"c":21.5},{"t":0.4337,"c":18},{"t":0.4345,"a":21.5,"b":20.1,"c":20.5},{"t":0.4355,"c":19.5},{"t":0.436,"a":19.5,"b":20.5},{"t":0.4365,"c":21},{"t":0.4372,"c":18.5},{"t":0.4375,"a":22,"b":21},{"t":0.438,"c":22.5},{"t":0.4385,"b":22},{"t":0.4387,"c":18},{"t":0.439,"a":19},{"t":0.4395,"b":21.5,"c":22.8},{"t":0.4402,"c":18.5},{"t":0.4405,"a":22.5,"b":20.5},{"t":0.441,"c":22},{"t":0.4417,"c":19},{"t":0.442,"a":19.5,"b":21},{"t":0.4425,"c":21.5},{"t":0.4433,"c":19},{"t":0.4435,"a":21},{"t":0.444,"b":20.3},{"t":0.4442,"c":21},{"t":0.445,"a":18.5,"c":19.5},{"t":0.446,"b":19.8,"c":20.5},{"t":0.4465,"a":20.5},{"t":0.447,"a":19.7,"b":20.3,"c":19.7},{"t":0.448,"a":20.9,"b":19.8,"c":20.4},{"t":0.449,"a":19.5,"b":20.2,"c":19.6},{"t":0.45,"a":20.6,"b":19.7,"c":20.3},{"t":0.451,"a":19.4,"b":20.3,"c":19.8},{"t":0.452,"a":20.8,"b":19.9,"c":20.4},{"t":0.453,"a":19.6,"b":20.2,"c":19.7},{"t":0.454,"a":20.5,"b":19.8,"c":20.2},{"t":0.455,"a":19.3,"b":20.3,"c":19.6},{"t":0.456,"a":20.7,"b":19.7,"c":20.4},{"t":0.457,"a":19.8,"b":20.2,"c":19.8},{"t":0.458,"a":20.4,"b":19.9,"c":20.3},{"t":0.459,"a":19.5,"b":20.3,"c":19.7},{"t":0.46,"a":20.2,"b":20.0,"c":20.1}
],
"d5":[
{"t":0.29,"a":1.5,"b":-0.8,"c":-0.6},{"t":0.291,"a":-1.8,"b":0.6,"c":0.8},{"t":0.292,"a":0.9,"b":-0.5,"c":-0.9},{"t":0.293,"a":-2.1,"b":0.8,"c":0.5},{"t":0.294,"a":1.2,"b":-0.7,"c":-0.4},{"t":0.295,"a":-1.5,"b":0.4,"c":0.9},{"t":0.296,"a":1.8,"b":-0.6,"c":-0.7},{"t":0.297,"a":-1.2,"b":0.7,"c":0.6},{"t":0.298,"a":0.8,"b":-0.4,"c":-0.8},{"t":0.299,"a":-1.6,"b":0.5,"c":0.4},{"t":0.2999,"a":0.5,"b":0.2,"c":-0.2},
{"t":0.3003,"a":60,"b":75,"c":75},{"t":0.3006,"b":77},{"t":0.3007,"a":92},{"t":0.301,"c":76},{"t":0.3011,"b":63},{"t":0.3017,"a":50,"b":75},{"t":0.3023,"b":73},{"t":0.3027,"a":91},{"t":0.303,"b":77,"c":78},{"t":0.3037,"a":52},{"t":0.304,"b":77.5},{"t":0.3047,"a":92},{"t":0.305,"b":78,"c":78.5},{"t":0.3056,"a":65},{"t":0.306,"c":79},{"t":0.3065,"a":86},{"t":0.307,"b":78.5,"c":79.3},{"t":0.3074,"a":70},{"t":0.308,"b":79.2,"c":78.8},{"t":0.3083,"a":86},{"t":0.309,"b":78.6,"c":79.6},{"t":0.3092,"a":73},{"t":0.31,"b":79.5,"c":80.2},{"t":0.3101,"a":83},{"t":0.311,"a":76,"b":79.1,"c":79.4},{"t":0.3119,"a":82},{"t":0.312,"b":80.2,"c":80.5},{"t":0.313,"a":79,"b":79.4,"c":79.6},{"t":0.314,"a":81.2,"b":80.3,"c":80.8},{"t":0.315,"a":79.5,"b":79.6,"c":79.5},{"t":0.316,"a":81.4,"b":80.7,"c":80.9},{"t":0.317,"a":78.9,"b":79.5,"c":79.7},{"t":0.318,"a":81.1,"b":80.5,"c":81.2},{"t":0.319,"a":79.3,"b":79.8,"c":79.6},{"t":0.3199,"a":81,"b":80.5,"c":80.8},
{"t":0.3201,"a":-22,"b":5,"c":5},{"t":0.3203,"b":-2,"c":3.5},{"t":0.3206,"a":25},{"t":0.3208,"b":8,"c":2.8},{"t":0.3211,"a":-15,"b":3,"c":2.2},{"t":0.3215,"b":4,"c":3},{"t":0.3219,"a":32},{"t":0.322,"b":2.5,"c":1.8},{"t":0.3226,"a":-15},{"t":0.323,"b":2,"c":1.5},{"t":0.3233,"a":30},{"t":0.324,"a":-12,"b":1.5,"c":1.2},{"t":0.3247,"a":18},{"t":0.325,"b":1,"c":0.6},{"t":0.3255,"a":-8},{"t":0.326,"b":0.8,"c":0.9},{"t":0.3263,"a":12},{"t":0.327,"a":-4,"b":0.2,"c":0.3},{"t":0.3278,"a":8},{"t":0.328,"b":0.5,"c":-0.2},{"t":0.3287,"a":-3},{"t":0.329,"b":-0.3,"c":0.4},{"t":0.3297,"a":7},{"t":0.33,"b":0.2,"c":-0.5},{"t":0.3308,"a":-1},{"t":0.331,"b":-0.4,"c":-0.3},{"t":0.332,"a":7,"b":0.1,"c":-0.8},{"t":0.333,"a":0,"b":-0.5,"c":-0.6},{"t":0.334,"a":2,"b":-0.8,"c":-1.2},{"t":0.335,"a":-1.5,"b":-1.2,"c":-1.0},{"t":0.336,"a":0.5,"b":-1.5,"c":-1.6},{"t":0.337,"a":-2.5,"b":-2.0,"c":-1.5},{"t":0.338,"a":-1.5,"b":-2.4,"c":-2.2},{"t":0.339,"a":-4,"b":-2.8,"c":-2.6},{"t":0.34,"a":-3.5,"b":-3.2,"c":-3.0},{"t":0.341,"a":-5.5,"b":-3.5,"c":-2.6},{"t":0.342,"a":-4.5,"b":-3.0,"c":-3.2},{"t":0.343,"a":-6.5,"b":-3.4,"c":-2.4},{"t":0.344,"a":-5,"b":-2.8,"c":-1.8},{"t":0.345,"a":-6.8,"b":-2.5,"c":-1.2},{"t":0.346,"a":-5.5,"b":-2.0,"c":-1.5},{"t":0.347,"a":-6,"b":-1.6,"c":-0.8},{"t":0.348,"a":-4.2,"b":-1.2,"c":-0.5},{"t":0.349,"a":-4.8,"b":-0.8,"c":-0.2},{"t":0.3499,"a":-3.5,"b":-0.5,"c":0},
{"t":0.3502,"a":6,"b":10,"c":16},{"t":0.3505,"a":10,"b":13,"c":17.5},{"t":0.351,"a":12,"b":15.5,"c":18},{"t":0.352,"a":14.5,"b":17,"c":18.8},{"t":0.353,"a":15.5,"b":18,"c":19.2},{"t":0.354,"a":17,"b":18.8,"c":19.6},{"t":0.355,"a":17.5,"b":19.2,"c":19.9},{"t":0.356,"a":19,"b":19.6,"c":20.3},{"t":0.357,"a":18.5,"b":19.9,"c":20.0},{"t":0.358,"a":20.5,"b":20.3,"c":20.5},{"t":0.359,"a":19.2,"b":19.8,"c":20.1},{"t":0.36,"a":21.5,"b":20.5,"c":20.7},{"t":0.361,"a":19.8,"b":20.1,"c":20.3},{"t":0.362,"a":22,"b":20.6,"c":20.8},{"t":0.363,"a":20.2,"b":20.2,"c":20.4},{"t":0.364,"a":21.5,"b":20.8,"c":20.6},{"t":0.365,"a":20.0,"b":20.3,"c":20.9},{"t":0.366,"a":22.2,"b":20.9,"c":20.5},{"t":0.367,"a":20.4,"b":20.4,"c":20.8},{"t":0.368,"a":21.8,"b":21.0,"c":20.6},{"t":0.369,"a":20.6,"b":20.5,"c":21.0},{"t":0.37,"a":21.2,"b":21.2,"c":20.8},
{"t":0.3702,"a":58},{"t":0.3703,"b":52,"c":48},{"t":0.3707,"b":42,"c":43},{"t":0.3708,"a":35},{"t":0.3712,"b":46,"c":44.5},{"t":0.3716,"a":55},{"t":0.372,"b":44.5,"c":45.2},{"t":0.3724,"a":35},{"t":0.373,"b":45.3,"c":44.6},{"t":0.3732,"a":52},{"t":0.374,"a":38,"b":44.8,"c":45.3},{"t":0.3748,"a":50},{"t":0.375,"b":45.4,"c":44.7},{"t":0.3756,"a":40},{"t":0.376,"b":44.7,"c":45.4},{"t":0.3764,"a":48},{"t":0.377,"b":45.3,"c":44.6},{"t":0.3772,"a":42},{"t":0.378,"a":47,"b":44.6,"c":45.3},{"t":0.379,"a":44,"b":45.4,"c":44.8},{"t":0.38,"a":45.8,"b":44.8,"c":45.5},{"t":0.381,"a":44.2,"b":45.3,"c":44.6},{"t":0.382,"a":45.6,"b":44.7,"c":45.3},{"t":0.383,"a":44.4,"b":45.4,"c":44.7},{"t":0.384,"a":46.0,"b":44.9,"c":45.5},{"t":0.385,"a":44.3,"b":45.2,"c":44.8},{"t":0.386,"a":45.7,"b":44.6,"c":45.2},{"t":0.387,"a":44.5,"b":45.4,"c":44.6},{"t":0.388,"a":45.9,"b":44.8,"c":45.4},{"t":0.389,"a":44.2,"b":45.3,"c":44.7},{"t":0.3899,"a":45.5,"b":44.9,"c":45.2},
{"t":0.3903,"a":66,"b":61,"c":60},{"t":0.391,"a":53,"b":58.5,"c":59.2},{"t":0.3918,"a":64,"b":60.4,"c":60.3},{"t":0.3926,"a":56,"b":59.3,"c":59.5},{"t":0.3935,"a":62,"b":60.2,"c":60.4},{"t":0.3945,"a":58,"b":59.6,"c":59.6},{"t":0.3955,"a":61,"b":60.4,"c":60.3},{"t":0.397,"a":59,"b":59.7,"c":59.7},{"t":0.398,"a":60.8,"b":60.3,"c":60.4},{"t":0.399,"a":59.3,"b":59.8,"c":59.6},{"t":0.4,"a":60.6,"b":60.4,"c":60.3},{"t":0.401,"a":59.5,"b":59.7,"c":59.8},{"t":0.402,"a":60.9,"b":60.3,"c":60.5},{"t":0.403,"a":59.2,"b":59.8,"c":59.6},{"t":0.404,"a":60.7,"b":60.5,"c":60.4},{"t":0.405,"a":59.4,"b":59.6,"c":59.7},{"t":0.406,"a":60.8,"b":60.4,"c":60.5},{"t":0.407,"a":59.6,"b":59.9,"c":59.6},{"t":0.408,"a":61.0,"b":60.5,"c":60.3},{"t":0.409,"a":59.3,"b":59.8,"c":59.8},{"t":0.4099,"a":60.4,"b":60.2,"c":60.2},
{"t":0.4102,"a":90,"b":84,"c":86},{"t":0.4106,"b":79,"c":78},{"t":0.4108,"a":72},{"t":0.411,"b":80.2,"c":80},{"t":0.4116,"a":88},{"t":0.412,"b":79.4,"c":79.6},{"t":0.4124,"a":74},{"t":0.413,"b":80.3,"c":80.4},{"t":0.4132,"a":84},{"t":0.414,"a":76,"b":79.6,"c":79.5},{"t":0.4148,"a":82},{"t":0.415,"b":80.4,"c":80.3},{"t":0.416,"a":78,"b":79.5,"c":79.7},{"t":0.417,"a":80.8,"b":80.3,"c":80.5},{"t":0.418,"a":79.2,"b":79.6,"c":79.4},{"t":0.419,"a":81.0,"b":80.4,"c":80.6},{"t":0.42,"a":79.5,"b":79.7,"c":79.5},{"t":0.421,"a":80.9,"b":80.5,"c":80.4},{"t":0.422,"a":79.3,"b":79.8,"c":79.7},{"t":0.423,"a":81.2,"b":80.3,"c":80.6},{"t":0.424,"a":79.6,"b":79.6,"c":79.5},{"t":0.425,"a":80.7,"b":80.4,"c":80.3},{"t":0.426,"a":79.1,"b":79.7,"c":79.8},{"t":0.427,"a":81.1,"b":80.5,"c":80.5},{"t":0.428,"a":79.4,"b":79.8,"c":79.6},{"t":0.429,"a":80.8,"b":80.2,"c":80.4},
{"t":0.4301,"a":80,"b":80,"c":80},{"t":0.4306,"a":40},{"t":0.4309,"b":40,"c":45},{"t":0.4311,"a":20},{"t":0.4315,"c":31},{"t":0.4316,"b":18},{"t":0.4318,"a":60},{"t":0.4321,"c":55},{"t":0.4322,"b":55},{"t":0.4324,"a":105},{"t":0.4328,"b":90,"c":75},{"t":0.433,"a":85},{"t":0.4335,"b":80},{"t":0.4336,"a":105,"c":70},{"t":0.4342,"a":50},{"t":0.4343,"b":82},{"t":0.4345,"c":76},{"t":0.4349,"a":105},{"t":0.4355,"a":70},{"t":0.4359,"b":86,"c":75},{"t":0.4362,"a":105},{"t":0.4369,"a":75},{"t":0.4374,"b":90,"c":78},{"t":0.4376,"a":105},{"t":0.4383,"a":85},{"t":0.4384,"b":93,"c":84},{"t":0.439,"a":105},{"t":0.4391,"b":88,"c":82},{"t":0.4398,"a":105},{"t":0.4399,"b":98,"c":90},{"t":0.4404,"a":85},{"t":0.4405,"b":80,"c":75},{"t":0.441,"a":60},{"t":0.4411,"c":55},{"t":0.4412,"b":58},{"t":0.4415,"a":49},{"t":0.4417,"c":62},{"t":0.4418,"b":52},{"t":0.4422,"a":65},{"t":0.4424,"c":70},{"t":0.4425,"b":65},{"t":0.443,"a":84},{"t":0.4436,"b":76,"c":78},{"t":0.4438,"a":72},{"t":0.4444,"b":78,"c":79},{"t":0.4446,"a":75},{"t":0.4451,"b":76.5,"c":76},{"t":0.4454,"a":70},{"t":0.4462,"a":74,"b":77.5,"c":78},{"t":0.447,"a":72,"b":76.8,"c":77},{"t":0.4478,"a":76,"b":77.8,"c":78.2},{"t":0.4486,"a":74,"b":78.3,"c":78.5},{"t":0.449,"b":78.6,"c":78.8},{"t":0.45,"a":78,"b":78.9,"c":79.0},{"t":0.451,"a":79.2,"b":79.4,"c":79.6},{"t":0.452,"a":79,"b":79.8,"c":80.1},{"t":0.453,"a":80.4,"b":80.3,"c":80.5},{"t":0.454,"a":79.6,"b":80.0,"c":79.8},{"t":0.455,"a":80.6,"b":79.7,"c":80.2},{"t":0.456,"a":79.2,"b":80.1,"c":79.6},{"t":0.457,"a":80.5,"b":79.6,"c":79.9},{"t":0.458,"a":79.0,"b":79.8,"c":79.4},{"t":0.459,"a":80.1,"b":79.3,"c":79.7},{"t":0.46,"a":79.4,"b":79.6,"c":79.2}
]
},
"vconcat":[
{"width":739,"height":108,"resolve":{"axis":{"x":"independent","y":"independent"}},"layer":[
 {"data":{"name":"d1"},"mark":{"type":"line","clip":true,"strokeWidth":1.5,"invalid":"filter"},"encoding":{"x":{"field":"t","type":"quantitative","scale":{"domain":[0.29,0.46],"nice":false,"zero":false},"axis":{"title":null,"labelOverlap":false,"values":[0.3,0.32,0.34,0.36,0.38,0.4,0.42,0.44,0.46],"labelExpr":"toString(datum.value)"}},"y":{"field":"a","type":"quantitative","scale":{"domain":[-20,40],"nice":false},"axis":{"title":null,"labelOverlap":false,"values":[-20,0,20,40],"labelExpr":"toString(datum.value)"}},"color":{"datum":"No SPM","scale":{"domain":["No SPM","Independent","Coordinated"],"range":["#EDB120","#D95319","#0072BD"]},"legend":{"title":null,"orient":"none","legendX":129,"legendY":-38,"direction":"horizontal","columns":3,"symbolType":"stroke","symbolSize":700,"symbolStrokeWidth":2.5,"columnPadding":25,"labelOffset":4,"padding":2,"strokeColor":"#000","fillColor":"#fff"}}}},
 {"data":{"name":"d1"},"mark":{"type":"line","clip":true,"strokeWidth":1.5,"invalid":"filter"},"encoding":{"x":{"field":"t","type":"quantitative","axis":null},"y":{"field":"b","type":"quantitative","axis":null},"color":{"datum":"Independent"}}},
 {"data":{"name":"d1"},"mark":{"type":"line","clip":true,"strokeWidth":2,"invalid":"filter"},"encoding":{"x":{"field":"t","type":"quantitative","axis":null},"y":{"field":"c","type":"quantitative","axis":null},"color":{"datum":"Coordinated"}}},
 {"data":{"values":[{"label":"DER1"}]},"mark":{"type":"rect","fill":"#fff","stroke":"#000","strokeWidth":1},"encoding":{"x":{"datum":0.446,"type":"quantitative","axis":{"orient":"top","labels":false,"grid":false,"title":null,"values":[0.3,0.32,0.34,0.36,0.38,0.4,0.42,0.44,0.46]}},"x2":{"datum":0.4586},"y":{"datum":-1.1,"type":"quantitative","axis":{"orient":"right","labels":false,"grid":false,"title":null,"values":[-20,0,20,40]}},"y2":{"datum":-17.8}}},
 {"data":{"values":[{"label":"DER1"}]},"mark":{"type":"text","fontSize":15.5,"font":"Liberation Sans","color":"#000"},"encoding":{"x":{"datum":0.4523,"type":"quantitative","axis":null},"y":{"datum":-9.45,"type":"quantitative","axis":null},"text":{"field":"label"}}}
]},
{"width":739,"height":108,"resolve":{"axis":{"x":"independent","y":"independent"}},"layer":[
 {"data":{"name":"d2"},"mark":{"type":"line","clip":true,"strokeWidth":1.5,"invalid":"filter"},"encoding":{"x":{"field":"t","type":"quantitative","scale":{"domain":[0.29,0.46],"nice":false,"zero":false},"axis":{"title":null,"labelOverlap":false,"values":[0.3,0.32,0.34,0.36,0.38,0.4,0.42,0.44,0.46],"labelExpr":"toString(datum.value)"}},"y":{"field":"a","type":"quantitative","scale":{"domain":[-10,40],"nice":false},"axis":{"title":null,"labelOverlap":false,"values":[0,20,40],"labelExpr":"toString(datum.value)"}},"color":{"datum":"No SPM"}}},
 {"data":{"name":"d2"},"mark":{"type":"line","clip":true,"strokeWidth":1.5,"invalid":"filter"},"encoding":{"x":{"field":"t","type":"quantitative","axis":null},"y":{"field":"b","type":"quantitative","axis":null},"color":{"datum":"Independent"}}},
 {"data":{"name":"d2"},"mark":{"type":"line","clip":true,"strokeWidth":2,"invalid":"filter"},"encoding":{"x":{"field":"t","type":"quantitative","axis":null},"y":{"field":"c","type":"quantitative","axis":null},"color":{"datum":"Coordinated"}}},
 {"data":{"values":[{"label":"DER2"}]},"mark":{"type":"rect","fill":"#fff","stroke":"#000","strokeWidth":1},"encoding":{"x":{"datum":0.446,"type":"quantitative","axis":{"orient":"top","labels":false,"grid":false,"title":null,"values":[0.3,0.32,0.34,0.36,0.38,0.4,0.42,0.44,0.46]}},"x2":{"datum":0.4586},"y":{"datum":3.8,"type":"quantitative","axis":{"orient":"right","labels":false,"grid":false,"title":null,"values":[0,20,40]}},"y2":{"datum":-9.2}}},
 {"data":{"values":[{"label":"DER2"}]},"mark":{"type":"text","fontSize":15.5,"font":"Liberation Sans","color":"#000"},"encoding":{"x":{"datum":0.4523,"type":"quantitative","axis":null},"y":{"datum":-2.7,"type":"quantitative","axis":null},"text":{"field":"label"}}}
]},
{"width":739,"height":108,"resolve":{"axis":{"x":"independent","y":"independent"}},"layer":[
 {"data":{"name":"d3"},"mark":{"type":"line","clip":true,"strokeWidth":1.5,"invalid":"filter"},"encoding":{"x":{"field":"t","type":"quantitative","scale":{"domain":[0.29,0.46],"nice":false,"zero":false},"axis":{"title":null,"labelOverlap":false,"values":[0.3,0.32,0.34,0.36,0.38,0.4,0.42,0.44,0.46],"labelExpr":"toString(datum.value)"}},"y":{"field":"a","type":"quantitative","scale":{"domain":[-20,40],"nice":false},"axis":{"title":"Active Power (kW)","titleFontSize":22,"titlePadding":2,"labelOverlap":false,"values":[-20,0,20,40],"labelExpr":"toString(datum.value)"}},"color":{"datum":"No SPM"}}},
 {"data":{"name":"d3"},"mark":{"type":"line","clip":true,"strokeWidth":1.5,"invalid":"filter"},"encoding":{"x":{"field":"t","type":"quantitative","axis":null},"y":{"field":"b","type":"quantitative","axis":null},"color":{"datum":"Independent"}}},
 {"data":{"name":"d3"},"mark":{"type":"line","clip":true,"strokeWidth":2,"invalid":"filter"},"encoding":{"x":{"field":"t","type":"quantitative","axis":null},"y":{"field":"c","type":"quantitative","axis":null},"color":{"datum":"Coordinated"}}},
 {"data":{"values":[{"label":"DER3"}]},"mark":{"type":"rect","fill":"#fff","stroke":"#000","strokeWidth":1},"encoding":{"x":{"datum":0.446,"type":"quantitative","axis":{"orient":"top","labels":false,"grid":false,"title":null,"values":[0.3,0.32,0.34,0.36,0.38,0.4,0.42,0.44,0.46]}},"x2":{"datum":0.4586},"y":{"datum":0.5,"type":"quantitative","axis":{"orient":"right","labels":false,"grid":false,"title":null,"values":[-20,0,20,40]}},"y2":{"datum":-17.8}}},
 {"data":{"values":[{"label":"DER3"}]},"mark":{"type":"text","fontSize":15.5,"font":"Liberation Sans","color":"#000"},"encoding":{"x":{"datum":0.4523,"type":"quantitative","axis":null},"y":{"datum":-8.65,"type":"quantitative","axis":null},"text":{"field":"label"}}}
]},
{"width":739,"height":108,"resolve":{"axis":{"x":"independent","y":"independent"}},"layer":[
 {"data":{"name":"d4"},"mark":{"type":"line","clip":true,"strokeWidth":1.5,"invalid":"filter"},"encoding":{"x":{"field":"t","type":"quantitative","scale":{"domain":[0.29,0.46],"nice":false,"zero":false},"axis":{"title":null,"labelOverlap":false,"values":[0.3,0.32,0.34,0.36,0.38,0.4,0.42,0.44,0.46],"labelExpr":"toString(datum.value)"}},"y":{"field":"a","type":"quantitative","scale":{"domain":[-10,30],"nice":false},"axis":{"title":null,"labelOverlap":false,"values":[-10,0,10,20,30],"labelExpr":"toString(datum.value)"}},"color":{"datum":"No SPM"}}},
 {"data":{"name":"d4"},"mark":{"type":"line","clip":true,"strokeWidth":1.5,"invalid":"filter"},"encoding":{"x":{"field":"t","type":"quantitative","axis":null},"y":{"field":"b","type":"quantitative","axis":null},"color":{"datum":"Independent"}}},
 {"data":{"name":"d4"},"mark":{"type":"line","clip":true,"strokeWidth":2,"invalid":"filter"},"encoding":{"x":{"field":"t","type":"quantitative","axis":null},"y":{"field":"c","type":"quantitative","axis":null},"color":{"datum":"Coordinated"}}},
 {"data":{"values":[{"label":"DER4"}]},"mark":{"type":"rect","fill":"#fff","stroke":"#000","strokeWidth":1},"encoding":{"x":{"datum":0.446,"type":"quantitative","axis":{"orient":"top","labels":false,"grid":false,"title":null,"values":[0.3,0.32,0.34,0.36,0.38,0.4,0.42,0.44,0.46]}},"x2":{"datum":0.4586},"y":{"datum":1,"type":"quantitative","axis":{"orient":"right","labels":false,"grid":false,"title":null,"values":[-10,0,10,20,30]}},"y2":{"datum":-9.3}}},
 {"data":{"values":[{"label":"DER4"}]},"mark":{"type":"text","fontSize":15.5,"font":"Liberation Sans","color":"#000"},"encoding":{"x":{"datum":0.4523,"type":"quantitative","axis":null},"y":{"datum":-4.15,"type":"quantitative","axis":null},"text":{"field":"label"}}}
]},
{"width":739,"height":108,"resolve":{"axis":{"x":"independent","y":"independent"}},"layer":[
 {"data":{"name":"d5"},"mark":{"type":"line","clip":true,"strokeWidth":1.5,"invalid":"filter"},"encoding":{"x":{"field":"t","type":"quantitative","scale":{"domain":[0.29,0.46],"nice":false,"zero":false},"axis":{"title":"Time (s)","titleFontSize":22,"titlePadding":9,"labelOverlap":false,"values":[0.3,0.32,0.34,0.36,0.38,0.4,0.42,0.44,0.46],"labelExpr":"toString(datum.value)"}},"y":{"field":"a","type":"quantitative","scale":{"domain":[-20,100],"nice":false},"axis":{"title":null,"labelOverlap":false,"values":[0,50,100],"labelExpr":"toString(datum.value)"}},"color":{"datum":"No SPM"}}},
 {"data":{"name":"d5"},"mark":{"type":"line","clip":true,"strokeWidth":1.5,"invalid":"filter"},"encoding":{"x":{"field":"t","type":"quantitative","axis":null},"y":{"field":"b","type":"quantitative","axis":null},"color":{"datum":"Independent"}}},
 {"data":{"name":"d5"},"mark":{"type":"line","clip":true,"strokeWidth":2,"invalid":"filter"},"encoding":{"x":{"field":"t","type":"quantitative","axis":null},"y":{"field":"c","type":"quantitative","axis":null},"color":{"datum":"Coordinated"}}},
 {"data":{"values":[{"label":"PCC"}]},"mark":{"type":"rect","fill":"#fff","stroke":"#000","strokeWidth":1},"encoding":{"x":{"datum":0.446,"type":"quantitative","axis":{"orient":"top","labels":false,"grid":false,"title":null,"values":[0.3,0.32,0.34,0.36,0.38,0.4,0.42,0.44,0.46]}},"x2":{"datum":0.4586},"y":{"datum":15.2,"type":"quantitative","axis":{"orient":"right","labels":false,"grid":false,"title":null,"values":[0,50,100]}},"y2":{"datum":-15.6}}},
 {"data":{"values":[{"label":"PCC"}]},"mark":{"type":"text","fontSize":15.5,"font":"Liberation Sans","color":"#000"},"encoding":{"x":{"datum":0.4523,"type":"quantitative","axis":null},"y":{"datum":-0.2,"type":"quantitative","axis":null},"text":{"field":"label"}}}
]}
]
}
